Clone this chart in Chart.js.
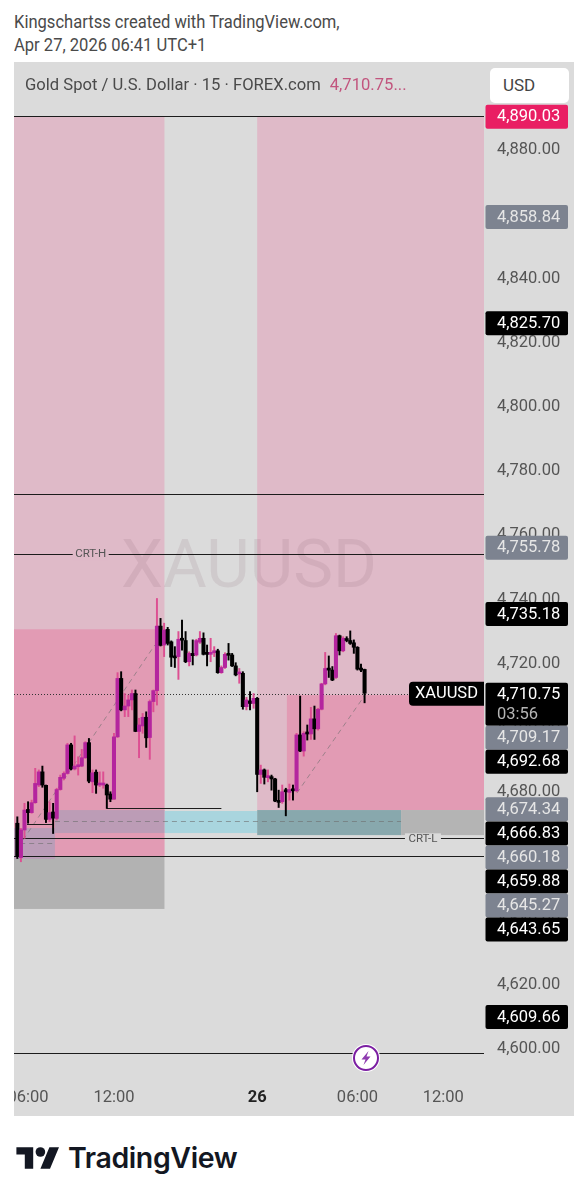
<!DOCTYPE html>
<html>
<head>
<meta charset="utf-8">
<title>XAUUSD</title>
<script src="https://cdn.jsdelivr.net/npm/chart.js@4/dist/chart.umd.min.js"></script>
<style>
  html, body { margin: 0; padding: 0; background: #fff; }
  body { position: relative; width: 588px; height: 1200px; overflow: hidden; font-family: Roboto, sans-serif; }
  .credit { position: absolute; left: 14px; color: #4a4a4a; font-size: 18px; line-height: 22px; white-space: nowrap;
            transform: scaleX(0.92); transform-origin: left center; }
  #panel { position: absolute; left: 14px; top: 62px; width: 560px; height: 1054px; background: #dbdbdb; }
  #legend { position: absolute; left: 25px; top: 73px; font-size: 17px; line-height: 22px; color: #4a4a4a; white-space: nowrap;
            transform: scaleX(0.977); transform-origin: left center; }
  #legend span { color: #c2557e; margin-left: 5px; }
  #usd { position: absolute; left: 490px; top: 68px; width: 79px; height: 35px; background: #fff; border-radius: 5px;
         font-size: 17px; line-height: 35px; color: #444; text-indent: 13px; }
  #bolt { position: absolute; left: 351px; top: 1043px; }
  #logo { position: absolute; left: 16px; top: 1146px; }
  #brand { position: absolute; left: 68px; top: 1139px; font-family: Inter, sans-serif; font-weight: 600; font-size: 28.5px;
           line-height: 38px; color: #131722; letter-spacing: -0.4px; }
</style>
</head>
<body>
<div class="credit" style="top:11px">Kingschartss created with TradingView.com,</div>
<div class="credit" style="top:34px">Apr 27, 2026 06:41 UTC+1</div>
<div id="panel"><canvas id="chart" width="560" height="1054"></canvas></div>
<div id="legend">Gold Spot / U.S. Dollar · 15 · FOREX.com <span>4,710.75...</span></div>
<div id="usd">USD</div>
<svg id="bolt" width="30" height="30" viewBox="0 0 30 30">
  <circle cx="15" cy="15" r="14" fill="#fff"/>
  <circle cx="15" cy="15" r="12" fill="#fff" stroke="#7b1fa2" stroke-width="2"/>
  <path d="M17.5 8 L10.5 16.5 H14.5 L12.5 22 L19.5 13.5 H15.5 Z" fill="#8e3bb0"/>
</svg>
<svg id="logo" width="44" height="24" viewBox="0 0 36 20">
  <path d="M14 19H7V7H0V1h14zM28 19h-8l7.5-18h8z" fill="#131722"/>
  <circle cx="20" cy="5" r="4" fill="#131722"/>
</svg>
<div id="brand">TradingView</div>

<script>
// 15 minute candles, oldest first
const opens = [
  4669.7, 4659.0, 4667.6, 4674.0, 4673.0, 4676.1, 4681.6, 4685.7, 4681.5, 4670.9,
  4673.2, 4671.2, 4680.2, 4683.7, 4685.2, 4694.1, 4686.6, 4687.3, 4687.5, 4690.1,
  4694.8, 4682.6, 4685.6, 4681.6, 4681.6, 4681.6, 4678.8, 4677.2, 4696.6, 4714.8,
  4705.0, 4706.2, 4708.1, 4710.1, 4698.3, 4700.0, 4702.7, 4696.4, 4707.6, 4711.0,
  4731.1, 4725.2, 4730.1, 4726.2, 4721.6, 4721.6, 4727.0, 4726.6, 4720.0, 4722.6,
  4722.1, 4726.1, 4727.3, 4722.6, 4722.3, 4722.8, 4723.4, 4716.6, 4718.2, 4722.3,
  4722.1, 4718.7, 4716.2, 4716.4, 4706.0, 4707.8, 4707.0, 4708.6, 4684.9, 4686.3,
  4683.9, 4684.2, 4683.5, 4676.8, 4676.4, 4679.8, 4679.3, 4680.0, 4679.8, 4697.2,
  4692.2, 4697.7, 4697.5, 4702.2, 4699.1, 4705.2, 4713.1, 4717.9, 4717.4, 4715.1,
  4728.1, 4723.4, 4727.1, 4726.6, 4725.9, 4724.5, 4717.7, 4717.6,
];
const highs = [
  4671.7, 4668.1, 4675.9, 4676.4, 4676.9, 4686.8, 4686.3, 4687.5, 4681.6, 4676.4,
  4675.9, 4680.6, 4684.7, 4685.7, 4694.6, 4694.6, 4696.9, 4690.4, 4692.7, 4695.1,
  4696.1, 4686.3, 4686.3, 4685.7, 4685.7, 4681.9, 4679.5, 4697.7, 4716.6, 4716.9,
  4710.1, 4709.6, 4711.2, 4711.2, 4702.4, 4703.9, 4704.4, 4708.1, 4711.2, 4739.7,
  4733.5, 4732.0, 4730.7, 4726.5, 4724.7, 4729.4, 4733.0, 4729.4, 4723.1, 4726.8,
  4727.0, 4729.4, 4729.0, 4725.2, 4727.3, 4724.7, 4723.9, 4718.7, 4722.8, 4725.7,
  4722.6, 4719.7, 4717.9, 4716.9, 4708.9, 4710.7, 4710.1, 4708.9, 4687.8, 4686.6,
  4686.3, 4684.7, 4683.7, 4680.0, 4681.6, 4680.6, 4681.9, 4681.6, 4697.7, 4709.3,
  4698.2, 4700.3, 4705.8, 4706.2, 4705.5, 4713.3, 4722.9, 4721.8, 4718.5, 4728.8,
  4728.3, 4727.8, 4727.8, 4729.6, 4726.8, 4724.7, 4719.3, 4717.7,
];
const lows = [
  4658.7, 4657.7, 4665.0, 4669.7, 4672.8, 4675.9, 4681.1, 4680.9, 4669.9, 4670.2,
  4666.5, 4670.7, 4680.0, 4683.2, 4685.0, 4686.3, 4686.3, 4684.7, 4687.3, 4689.9,
  4682.3, 4679.2, 4679.0, 4681.1, 4680.6, 4674.3, 4676.4, 4677.1, 4696.4, 4704.7,
  4702.9, 4702.9, 4705.0, 4698.2, 4690.1, 4697.7, 4693.3, 4689.6, 4704.4, 4706.5,
  4724.9, 4721.6, 4725.2, 4718.5, 4718.2, 4714.5, 4723.6, 4719.7, 4718.7, 4719.0,
  4721.8, 4725.7, 4722.1, 4718.7, 4720.0, 4721.6, 4716.4, 4716.4, 4717.9, 4720.5,
  4718.5, 4715.6, 4713.3, 4705.2, 4705.0, 4705.0, 4705.5, 4679.5, 4682.1, 4681.9,
  4682.6, 4680.0, 4676.4, 4674.6, 4675.9, 4672.0, 4676.9, 4676.9, 4679.5, 4692.0,
  4690.6, 4695.6, 4695.8, 4695.8, 4698.7, 4705.0, 4712.8, 4715.1, 4714.1, 4714.8,
  4722.1, 4723.1, 4726.2, 4725.4, 4722.6, 4717.4, 4716.9, 4707.2,
];
const closes = [
  4659.3, 4667.6, 4673.8, 4673.0, 4676.1, 4682.1, 4685.7, 4681.6, 4670.9, 4673.0,
  4671.3, 4680.2, 4684.0, 4685.2, 4694.1, 4686.6, 4687.5, 4687.5, 4690.1, 4694.8,
  4682.8, 4685.4, 4681.6, 4681.8, 4681.8, 4678.5, 4677.2, 4696.6, 4714.8, 4705.0,
  4706.2, 4708.1, 4710.1, 4698.3, 4700.3, 4702.7, 4696.3, 4707.6, 4711.0, 4731.1,
  4725.1, 4729.9, 4725.7, 4721.4, 4721.2, 4727.0, 4726.7, 4720.0, 4722.6, 4721.9,
  4726.6, 4727.3, 4722.3, 4722.3, 4722.9, 4723.4, 4716.6, 4718.2, 4722.3, 4722.0,
  4718.7, 4715.9, 4716.4, 4706.0, 4708.1, 4707.0, 4708.6, 4684.9, 4686.3, 4684.0,
  4684.2, 4683.5, 4676.6, 4676.2, 4679.5, 4679.5, 4680.2, 4679.8, 4697.2, 4692.2,
  4697.7, 4697.5, 4702.2, 4699.1, 4705.2, 4713.1, 4717.9, 4717.4, 4714.3, 4728.1,
  4723.4, 4727.3, 4726.6, 4725.7, 4724.5, 4717.7, 4717.4, 4710.2,
];

const priceTicks = [4600, 4620, 4640, 4660, 4680, 4700, 4720, 4740, 4760, 4780, 4800, 4820, 4840, 4860, 4880];
const timeTickBars = [3, 27, 67, 95, 119];
const timeTickLabels = ['06:00', '12:00', '26', '06:00', '12:00'];

// price labels on the axis, top to bottom
const tagLevels = [4890.03, 4858.84, 4825.70, 4755.78, 4735.18, 4710.04, 4709.17, 4692.68, 4674.34, 4666.83, 4660.18, 4659.88, 4645.27, 4643.65, 4609.66];
const tagLabels = ['4,890.03', '4,858.84', '4,825.70', '4,755.78', '4,735.18', '4,710.75', '4,709.17', '4,692.68', '4,674.34', '4,666.83', '4,660.18', '4,659.88', '4,645.27', '4,643.65', '4,609.66'];
const countdownLabel = '03:56';

// drawn rectangles, in bar numbers and prices
const zoneFrom = [-0.93, 67, -0.93, 75.3, -0.93, 41.1, 67, 107.2, 10.5, -0.93];
const zoneTo   = [41.1, 130.4, 41.1, 130.4, 41.1, 67, 107.2, 130.4, 41.1, 10.5];
const zoneHigh = [4889.7, 4889.7, 4730.1, 4709.6, 4659.2, 4673.5, 4673.8, 4673.8, 4673.8, 4668.2];
const zoneLow  = [4659.2, 4673.8, 4659.2, 4673.8, 4643.0, 4666.65, 4666.0, 4666.0, 4666.65, 4658.6];

// drawn horizontal lines
const lineLevels = [4889.95, 4772.24, 4753.55, 4665.0, 4659.5, 4598.1, 4674.44, 4669.45];
const lineFrom = [-0.93, -0.93, -0.93, -0.93, -0.93, -0.93, 25, 2.7];
const lineTo = [130.4, 130.4, 130.4, 130.4, 130.4, 130.4, 57, 10];

const dashedLevels = [4670.4, 4663.5];
const dashedFrom = [10.5, 0.8];
const dashedTo = [107.2, 10.5];

const diagFromBar = [1.6, 78.1];
const diagToBar = [38.4, 97.1];
const diagFromPrice = [4664.5, 4679.1];
const diagToPrice = [4725.2, 4709.6];

const lastPriceLevel = 4710.04;
const lineTexts = ['CRT-H', 'CRT-L'];
const lineTextBars = [20.5, 113.3];
const lineTextLevels = [4753.55, 4665.0];

const COLOR = {
  bg: '#dbdbdb',
  upBody: '#b4259e',
  upWick: '#dd4f92',
  down: '#000000',
  tick: '#555555',
  line: '#1c1c1c',
  dashed: 'rgba(110,110,110,0.6)',
  tagBlack: '#000000',
  tagGrey: '#7d8390',
  tagPink: '#e91e63',
};
// same order as the zone arrays
const ZONE_COLORS = ['#dfbac8', '#dfbac8', '#e29bb4', '#e29bb4', '#b2b2b2', '#a9d5de', '#88a8ad', '#b4b4b4', '#bc9cb6', '#bb9db8'];
const GREY_TAGS = ['4,858.84', '4,755.78', '4,709.17', '4,674.34', '4,660.18', '4,645.27'];

const bodies = opens.map((o, i) => ({ x: i, y: [o, closes[i]] }));
const wicks = opens.map((o, i) => ({ x: i, y: [lows[i], highs[i]] }));
const isUp = opens.map((o, i) => closes[i] >= o);

const annotations = {
  id: 'annotations',
  beforeDatasetsDraw(chart) {
    const { ctx, chartArea: a, scales: { x, y } } = chart;
    ctx.save();
    ctx.beginPath();
    ctx.rect(a.left, a.top, a.width, a.height);
    ctx.clip();

    zoneFrom.forEach((from, i) => {
      const left = x.getPixelForValue(from);
      const top = y.getPixelForValue(zoneHigh[i]);
      ctx.fillStyle = ZONE_COLORS[i];
      ctx.fillRect(left, top, x.getPixelForValue(zoneTo[i]) - left, y.getPixelForValue(zoneLow[i]) - top);
    });

    // watermark
    ctx.fillStyle = 'rgba(120,80,100,0.12)';
    ctx.font = '67px Roboto';
    ctx.textAlign = 'center';
    ctx.textBaseline = 'middle';
    ctx.fillText('XAUUSD', 235, 508);

    ctx.strokeStyle = COLOR.dashed;
    ctx.lineWidth = 1;
    ctx.setLineDash([5, 4]);
    dashedLevels.forEach((level, i) => {
      const py = Math.round(y.getPixelForValue(level)) + 0.5;
      ctx.beginPath();
      ctx.moveTo(x.getPixelForValue(dashedFrom[i]), py);
      ctx.lineTo(x.getPixelForValue(dashedTo[i]), py);
      ctx.stroke();
    });
    diagFromBar.forEach((from, i) => {
      ctx.beginPath();
      ctx.moveTo(x.getPixelForValue(from), y.getPixelForValue(diagFromPrice[i]));
      ctx.lineTo(x.getPixelForValue(diagToBar[i]), y.getPixelForValue(diagToPrice[i]));
      ctx.stroke();
    });
    ctx.setLineDash([]);

    ctx.strokeStyle = COLOR.line;
    lineLevels.forEach((level, i) => {
      const py = Math.round(y.getPixelForValue(level)) + 0.5;
      ctx.beginPath();
      ctx.moveTo(x.getPixelForValue(lineFrom[i]), py);
      ctx.lineTo(x.getPixelForValue(lineTo[i]), py);
      ctx.stroke();
    });

    // CRT labels sit on a gap in their line
    ctx.font = '11.5px Roboto';
    lineTexts.forEach((text, i) => {
      const px = x.getPixelForValue(lineTextBars[i]);
      const py = y.getPixelForValue(lineTextLevels[i]);
      ctx.fillStyle = i === 0 ? ZONE_COLORS[0] : COLOR.bg;
      ctx.fillRect(px - 18, py - 5, 36, 11);
      ctx.fillStyle = '#555';
      ctx.fillText(text, px, py + 0.5);
    });

    // last price line
    ctx.strokeStyle = '#333';
    ctx.setLineDash([1, 2]);
    const lastY = Math.round(y.getPixelForValue(lastPriceLevel)) + 0.5;
    ctx.beginPath();
    ctx.moveTo(a.left, lastY);
    ctx.lineTo(a.right, lastY);
    ctx.stroke();
    ctx.restore();
  },
  afterDraw(chart) {
    const { ctx, chartArea: a, scales: { y } } = chart;
    ctx.save();
    ctx.textBaseline = 'middle';
    ctx.font = '16.5px Roboto';

    // symbol tag next to the axis
    const lastY = y.getPixelForValue(lastPriceLevel);
    ctx.fillStyle = COLOR.tagBlack;
    ctx.beginPath();
    ctx.roundRect(a.right - 75, lastY - 12, 75, 24, [4, 0, 0, 4]);
    ctx.fill();
    ctx.fillStyle = '#fff';
    ctx.textAlign = 'left';
    ctx.fillText('XAUUSD', a.right - 69, lastY);

    // axis tags, pushed down when they would overlap
    let bottom = -Infinity;
    tagLevels.forEach((level, i) => {
      const label = tagLabels[i];
      const isLast = label === '4,710.75';
      const h = isLast ? 43 : 24;
      const top = Math.max(y.getPixelForValue(level) - 12 + 1, bottom);
      bottom = top + h;
      const grey = GREY_TAGS.includes(label);
      ctx.fillStyle = i === 0 ? COLOR.tagPink : grey ? COLOR.tagGrey : COLOR.tagBlack;
      ctx.beginPath();
      ctx.roundRect(a.right + 1.5, top, 82.5, h, 2);
      ctx.fill();
      ctx.fillStyle = grey ? '#e6e6e6' : '#fff';
      ctx.textAlign = 'left';
      ctx.fillText(label, a.right + 13, top + 12.5);
      if (isLast) {
        ctx.fillStyle = '#b5b5b5';
        ctx.fillText(countdownLabel, a.right + 13, top + 32);
      }
    });
    ctx.restore();
  },
};

Chart.defaults.font.family = 'Roboto, sans-serif';

new Chart(document.getElementById('chart').getContext('2d'), {
  type: 'bar',
  data: {
    datasets: [
      {
        label: 'Body',
        data: bodies,
        order: 1,
        grouped: false,
        barThickness: 3.4,
        minBarLength: 2,
        backgroundColor: isUp.map(up => up ? COLOR.upBody : COLOR.down),
      },
      {
        label: 'Wick',
        data: wicks,
        order: 2,
        grouped: false,
        barThickness: 1.3,
        backgroundColor: isUp.map(up => up ? COLOR.upWick : COLOR.down),
      },
    ],
  },
  plugins: [annotations],
  options: {
    responsive: false,
    animation: false,
    layout: { padding: 0 },
    plugins: { legend: { display: false }, tooltip: { enabled: false } },
    scales: {
      x: {
        type: 'linear',
        offset: false,
        min: -0.93,
        max: 130.36,
        grid: { display: false, drawTicks: false },
        border: { display: false },
        afterBuildTicks(scale) { scale.ticks = timeTickBars.map(value => ({ value })); },
        afterFit(scale) { scale.height = 31; scale.paddingLeft = 0; scale.paddingRight = 0; },
        ticks: {
          autoSkip: false,
          maxRotation: 0,
          padding: 3,
          color: ctx => ctx.index === 2 ? '#222' : COLOR.tick,
          font: ctx => ({ size: 16.5, weight: ctx.index === 2 ? 'bold' : 'normal' }),
          callback: (value, i) => timeTickLabels[i],
        },
      },
      y: {
        type: 'linear',
        position: 'right',
        min: 4588.17,
        max: 4906.79,
        grid: { display: false, drawTicks: false },
        border: { display: false },
        afterBuildTicks(scale) { scale.ticks = priceTicks.map(value => ({ value })); },
        afterFit(scale) { scale.width = 90; scale.paddingTop = 0; scale.paddingBottom = 0; },
        ticks: {
          autoSkip: false,
          padding: 13,
          labelOffset: 2,
          color: COLOR.tick,
          font: { size: 16.5 },
          callback: value => value.toLocaleString('en-US', { minimumFractionDigits: 2 }),
        },
      },
    },
  },
});
</script>
</body>
</html>
